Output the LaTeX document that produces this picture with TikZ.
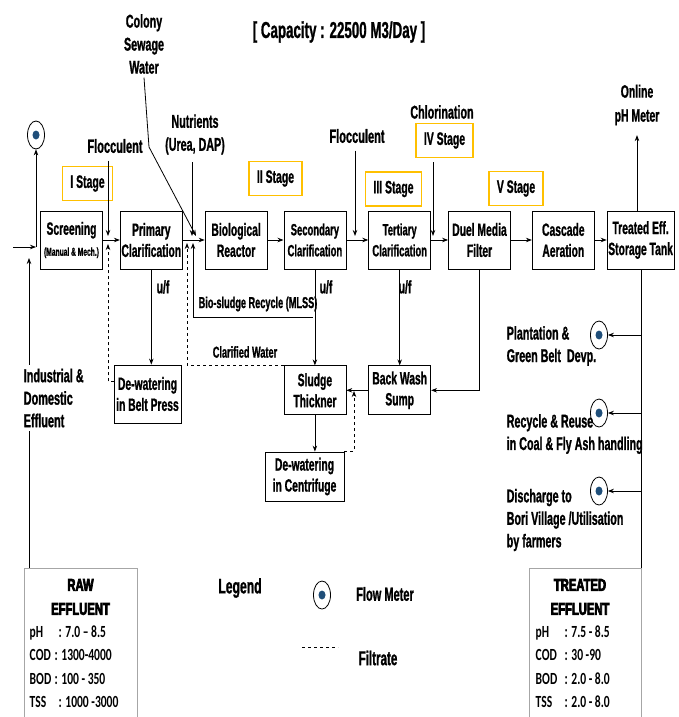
\documentclass[tikz,border=0pt]{standalone}
\usepackage{fontspec}
\setmainfont{Liberation Sans}[FakeStretch=0.58, FakeBold=1, UprightFont={* Bold}, BoldFont={* Bold}]
\newfontfamily\calfont{Carlito}[FakeStretch=0.68, UprightFont={* Bold}, BoldFont={* Bold}]
\newfontfamily\heavyfont{Liberation Sans}[FakeStretch=0.66, FakeBold=4, UprightFont={* Bold}, BoldFont={* Bold}]
\usetikzlibrary{positioning, arrows.meta, shapes.geometric}
\definecolor{stageyellow}{HTML}{FFC000}
\definecolor{meterblue}{HTML}{1F4E79}
\definecolor{boxgray}{HTML}{A6A6A6}

\begin{document}
\begin{tikzpicture}[x=1pt, y=-1pt, >={Stealth[length=6pt, width=4.5pt]}, line width=0.8pt,
	every node/.style={font=\fontsize{18}{21}\selectfont},
	b/.style={draw, minimum width=62pt, minimum height=58pt, align=center, inner sep=1pt, font=\fontsize{17.8}{21}\selectfont},
	sb/.style={b, minimum height=49pt},
	st/.style={draw=stageyellow, line width=1.5pt, minimum height=34pt, inner xsep=8pt},
	m/.style={ellipse, draw, minimum width=17pt, minimum height=28pt, inner sep=0pt,
		path picture={\fill[meterblue] (path picture bounding box.center) ellipse (3.5 and 4.5);}},
	t/.style={align=center, font=\fontsize{18.5}{23}\selectfont},
	tl/.style={align=left, anchor=west, font=\fontsize{18.5}{22.5}\selectfont},
	q/.style={draw=boxgray, anchor=north west, minimum height=160pt},
	hv/.style={align=center, font=\heavyfont\fontsize{17}{24}\selectfont},
	v/.style={align=left, anchor=north west, font=\calfont\fontsize{17}{23.5}\selectfont}]
		\useasboundingbox (0,0) rectangle (678,717);

		\node[t, font=\fontsize{23}{26}\selectfont] (cap) at (339,32) {[ Capacity : 22500 M3/Day ]};

		% main line
		\node[b] (scr) at (71.5,240) {Screening\\{\fontsize{11.5}{21}\selectfont(Manual \& Mech.)}};
		\node[b, right=17pt of scr] (pc) {Primary\\Clarification};
		\node[b, right=22pt of pc] (br) {Biological\\Reactor};
		\node[b, right=16pt of br, font=\fontsize{16.3}{21}\selectfont] (sc) {Secondary\\Clarification};
		\node[b, right=22pt of sc, font=\fontsize{16.3}{21}\selectfont] (tc) {Tertiary\\Clarification};
		\node[b, right=17pt of tc] (dmf) {Duel Media\\Filter};
		\node[b, right=21pt of dmf] (ca) {Cascade\\Aeration};
		\node[b, right=12pt of ca, minimum width=67pt] (stt) {Treated Eff.\\Storage Tank};

		% sludge side
		\node[b, minimum width=67pt] (bp) at (147.5,394) {De-watering\\in Belt Press};
		\node[sb, below=96pt of sc] (thk) {Sludge\\Thickner};
		\node[sb, below=96pt of tc] (bw) {Back Wash\\Sump};
		\node[sb, minimum width=79pt] (cen) at (304.5,476.5) {De-watering\\in Centrifuge};

		% stages
		\node[st] (s1) at (87.5,183.5) {I Stage};
		\node[st] (s2) at (275.5,178.5) {II Stage};
		\node[st] (s3) at (393.5,189) {III Stage};
		\node[st] (s4) at (444.5,140.5) {IV Stage};
		\node[st] (s5) at (516,188.5) {V Stage};

		% dosing and inlets
		\node[t] (col) at (144,44) {Colony\\Sewage\\Water};
		\node[t] (nut) at (195,134.5) {Nutrients\\(Urea, DAP)};
		\node[t, font=\fontsize{19}{23}\selectfont] (fl1) at (115,146) {Flocculent};
		\node[t, font=\fontsize{19}{23}\selectfont] (fl2) at (357,136) {Flocculent};
		\node[t] (chl) at (442,112) {Chlorination};
		\node[t, font=\fontsize{18}{24}\selectfont] (ph) at (637,105) {Online\\pH Meter};
		\node[tl, font=\fontsize{18.8}{22.5}\selectfont] (ide) at (20,398) {Industrial \&\\Domestic\\Effluent};

		\node (uf1) at (163,287) {u/f};
		\node (uf2) at (326,287) {u/f};
		\node (uf3) at (405,287) {u/f};
		\node[font=\fontsize{15.8}{18}\selectfont] (mls) at (258,304) {Bio-sludge Recycle (MLSS)};
		\node[font=\fontsize{15.8}{18}\selectfont] (clw) at (245,352) {Clarified Water};

		% flow meters and outlets
		\node[m] (m0) at (36,135) {};
		\node[m] (m1) at (599,335) {};
		\node[m] (m2) at (599,413) {};
		\node[m] (m3) at (599,491) {};
		\node[tl] (o1) at (503,346) {Plantation \&\\Green Belt\ \ Devp.};
		\node[tl] (o2) at (503,434) {Recycle \& Reuse\\in Coal \& Fly Ash handling};
		\node[tl] (o3) at (503,520) {Discharge to\\Bori Village /Utilisation\\by farmers};

		% quality boxes
		\node[q, minimum width=113pt] (raw) at (24,568) {};
		\node[hv] (rawh) at (80.5,597) {RAW\\EFFLUENT};
		\node[v] (rawv) at (26,622) {\makebox[29pt][l]{pH}: 7.0 – 8.5\\\makebox[25pt][l]{COD}: 1300-4000\\\makebox[25pt][l]{BOD}: 100 - 350\\\makebox[29pt][l]{TSS}: 1000 -3000};
		\node[q, minimum width=112pt] (tr) at (529,568) {};
		\node[hv] (trh) at (580,597) {TREATED\\EFFLUENT};
		\node[v] (trv) at (532,622) {\makebox[29pt][l]{pH}: 7.5 - 8.5\\\makebox[29pt][l]{COD}: 30 -90\\\makebox[29pt][l]{BOD}: 2.0 - 8.0\\\makebox[29pt][l]{TSS}: 2.0 - 8.0};

		% legend
		\node[font=\fontsize{21}{24}\selectfont] (lg) at (240,588) {Legend};
		\node[m] (m4) at (322,595) {};
		\node[font=\fontsize{19}{22}\selectfont] (lfm) at (385,594) {Flow Meter};
		\draw[dashed, line width=0.6pt] (302,647) -- (338,647);
		\node[font=\fontsize{20}{22}\selectfont] (lfi) at (378,658) {Filtrate};

		% free ends
		\coordinate (src) at (13,247);
		\coordinate (jn) at (36,247);
		\coordinate (ej) at (29,258);
		\coordinate (f1) at (108,236);
		\coordinate (bf) at (108,244);
		\coordinate (ck) at (149,147);
		\coordinate (ce) at (196,236);
		\coordinate (ne) at (192,236);
		\coordinate (ml) at (312.5,317);
		\coordinate (rr) at (193,243);
		\coordinate (cw) at (187,243);
		\coordinate (cf) at (354,391);
		\coordinate (f2) at (355,236);
		\coordinate (cl) at (433,236);

		\path[->] (scr) edge (pc);
		\path[->] (pc) edge (br);
		\path[->] (br) edge (sc);
		\path[->] (sc) edge (tc);
		\path[->] (tc) edge (dmf);
		\path[->] (dmf) edge (ca);
		\path[->] (ca) edge (stt);

		\draw[->] (src) -- (jn);
		\draw[->] (jn) -- (m0);
		\draw[->] (ide.north -| ej) -- (ej);
		\draw (ide.south -| ej) -- (raw.north -| ej);
		\draw[->, shorten <=4pt] (fl1.south -| f1) -- (f1);
		\draw[->, dashed] (bp.160) -| (bf);
		\draw[->] (col.south) -- (ck) -- (ce);
		\draw[->, shorten <=4pt] (nut.south -| ne) -- (ne);
		\draw[->, shorten <=4pt] (fl2.south -| f2) -- (f2);
		\draw[->, shorten <=4pt] (s4.south -| cl) -- (cl);

		\draw[->] (pc.south) -- (pc.south |- bp.north);
		\draw[->] (sc.south) -- (thk.north);
		\draw[->] (ml) -| (rr);
		\draw[->, dashed] (thk.north west) -| (cw);
		\draw[->] (tc.south) -- (bw.north);
		\draw[->] (dmf.south) |- (bw.east);
		\draw[->] (bw) -- (thk);
		\draw[->] (thk.south) -- (thk.south |- cen.north);
		\draw[->, dashed] (cen.north east) -| (cf);

		\draw[->, shorten >=6pt] (stt.north -| ph) -- (ph.south);
		\draw (stt.south -| tr.north east) -- (tr.north east);
		\draw[->] (tr.north east |- m1) -- (m1);
		\draw[->] (tr.north east |- m2) -- (m2);
		\draw[->] (tr.north east |- m3) -- (m3);
	\end{tikzpicture}
\end{document}
